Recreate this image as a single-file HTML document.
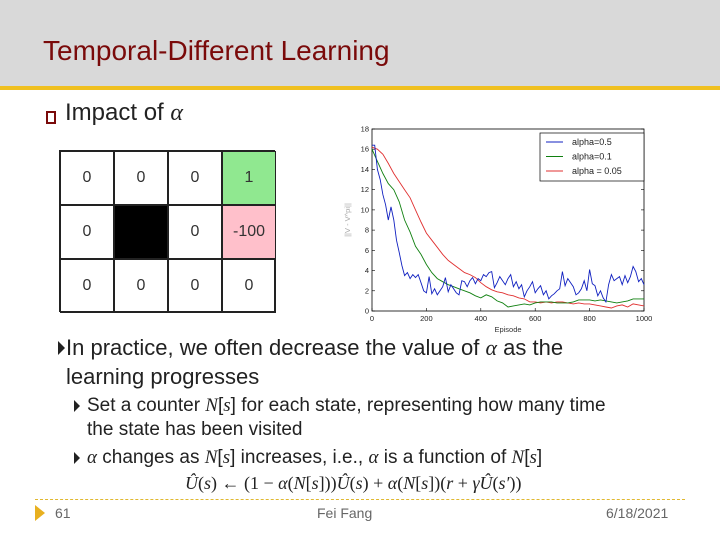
<!DOCTYPE html>
<html><head><meta charset="utf-8"><style>
body{margin:0;width:720px;height:540px;position:relative;background:#fff;font-family:"Liberation Sans",sans-serif;overflow:hidden}
.abs{position:absolute}
.cell{position:absolute;width:54px;height:54px;box-sizing:border-box;border:1px solid #222;display:flex;align-items:center;justify-content:center;font-size:16px;color:#333}
.tri{position:absolute;width:0;height:0;border-top:7px solid transparent;border-bottom:7px solid transparent;border-left:7px solid #222}
</style></head><body>
<div class="abs" style="left:0;top:0;width:720px;height:86px;background:#d9d9d9"></div>
<div class="abs" style="left:0;top:86px;width:720px;height:4px;background:#f0c020"></div>
<div class="abs" style="left:43px;top:35px;font-size:28px;color:#7a0a0a;letter-spacing:0px">Temporal-Different Learning</div>

<div class="abs" style="left:46px;top:111px;width:10px;height:13px;border:2px solid #7a0a0a;box-sizing:border-box"></div>
<div class="abs" style="left:65px;top:99px;font-size:24px;color:#222">Impact of <i style="font-family:'Liberation Serif',serif">α</i></div>

<div class="abs" style="left:59px;top:150px;width:216px;height:162px;border:1px solid #222;box-sizing:border-box">
<div class="cell" style="left:0;top:0">0</div>
<div class="cell" style="left:54px;top:0">0</div>
<div class="cell" style="left:108px;top:0">0</div>
<div class="cell" style="left:162px;top:0;background:#90e890">1</div>
<div class="cell" style="left:0;top:54px">0</div>
<div class="cell" style="left:54px;top:54px;background:#000"></div>
<div class="cell" style="left:108px;top:54px">0</div>
<div class="cell" style="left:162px;top:54px;background:#ffc0cb">-100</div>
<div class="cell" style="left:0;top:108px">0</div>
<div class="cell" style="left:54px;top:108px">0</div>
<div class="cell" style="left:108px;top:108px">0</div>
<div class="cell" style="left:162px;top:108px">0</div>
</div>

<svg class="abs" style="left:0;top:0" width="720" height="540" id="chart"></svg>

<div class="tri" style="left:58px;top:341px"></div>
<div class="abs" style="left:66px;top:333px;font-size:22px;line-height:29px;color:#222;width:550px">In practice, we often decrease the value of <i style="font-family:'Liberation Serif',serif">α</i> as the learning progresses</div>
<div class="tri" style="left:74px;top:400px;border-top-width:6px;border-bottom-width:6px;border-left-width:6px"></div>
<div class="abs" style="left:87px;top:394px;font-size:19px;line-height:24px;color:#222;width:530px">Set a counter <i style="font-family:'Liberation Serif',serif">N</i>[<i style="font-family:'Liberation Serif',serif">s</i>] for each state, representing how many time the state has been visited</div>
<div class="tri" style="left:74px;top:452px;border-top-width:6px;border-bottom-width:6px;border-left-width:6px"></div>
<div class="abs" style="left:87px;top:446px;font-size:19px;line-height:24px;color:#222"><i style="font-family:'Liberation Serif',serif">α</i> changes as <i style="font-family:'Liberation Serif',serif">N</i>[<i style="font-family:'Liberation Serif',serif">s</i>] increases, i.e., <i style="font-family:'Liberation Serif',serif">α</i> is a function of <i style="font-family:'Liberation Serif',serif">N</i>[<i style="font-family:'Liberation Serif',serif">s</i>]</div>
<div class="abs" style="left:185px;top:473px;font-size:18px;font-family:'Liberation Serif',serif;color:#222"><i>Û</i>(<i>s</i>) ← (1 − <i>α</i>(<i>N</i>[<i>s</i>]))<i>Û</i>(<i>s</i>) + <i>α</i>(<i>N</i>[<i>s</i>])(<i>r</i> + <i>γÛ</i>(<i>s′</i>))</div>

<div class="abs" style="left:35px;top:499px;width:650px;border-top:1px dashed #e0b830"></div>
<div class="abs" style="left:35px;top:505px;width:0;height:0;border-top:8px solid transparent;border-bottom:8px solid transparent;border-left:10px solid #e8b020"></div>
<div class="abs" style="left:55px;top:505px;font-size:14px;color:#666">61</div>
<div class="abs" style="left:317px;top:505px;font-size:14px;color:#666">Fei Fang</div>
<div class="abs" style="left:606px;top:505px;font-size:14px;color:#666">6/18/2021</div>

<script>
const blueX = [0,10,20,30,40,50,60,70,80,90,100,110,120,130,140,150,160,170,180,190,200,210,220,230,240,250,260,270,280,290,300,310,320,330,340,350,360,370,380,390,400,410,420,430,440,450,460,470,480,490,500,510,520,530,540,550,560,570,580,590,600,610,620,630,640,650,660,670,680,690,700,710,720,730,740,750,760,770,780,790,800,810,820,830,840,850,860,870,880,890,900,910,920,930,940,950,960,970,980,990,1000];
const blueY = [16.4,16.4,14,13,11.5,10.5,9,10.3,9,7,5.8,4.5,3.5,3.8,3.2,3.6,3.3,3.6,2.8,2.0,1.8,3.4,1.7,2.2,1.6,2.0,2.4,3.3,1.9,2.6,2.2,1.8,1.6,3.0,2.9,2.4,3.0,3.3,2.7,3.2,3.0,3.6,3.4,3.8,3.9,2.3,2.8,3.4,3.0,2.6,3.2,3.6,2.4,2.9,2.2,2.6,1.4,2.0,2.4,2.9,1.8,2.2,2.5,1.6,2.0,1.2,1.5,1.7,2.0,2.2,3.9,2.5,3.2,2.8,2.4,1.6,1.8,2.2,3.0,2.0,4.1,2.7,2.5,1.5,2.0,1.3,0.9,2.6,3.6,3.0,3.2,3.4,2.6,3.5,2.8,3.4,4.4,3.9,2.9,3.2,2.6];
const slowX = [0,20,40,60,80,100,120,140,160,180,200,220,240,260,280,300,320,340,360,380,400,420,440,460,480,500,520,540,560,580,600,620,640,660,680,700,720,740,760,780,800,820,840,860,880,900,920,940,960,980,1000];
const greenY = [16,14.8,13.6,12.6,12,10.8,9,7.8,6.4,5.6,4.6,3.8,3.2,2.9,2.6,2.4,2.2,2.0,1.8,1.5,1.3,1.6,1.4,1.0,0.8,0.4,0.5,0.6,0.7,0.6,0.8,0.9,0.9,0.9,0.8,0.8,0.8,0.9,1.1,1.1,1.1,1.0,1.1,1.0,0.9,0.8,0.9,1.0,1.2,1.2,1.2];
const redY = [16.2,16,15.5,14.6,13.6,12.8,12.0,11.2,10,8.8,7.7,7,6.3,5.6,5.0,4.6,4.2,3.8,3.6,3.3,2.8,2.4,2.1,1.9,1.8,1.6,1.5,1.3,1.2,0.9,0.9,0.8,0.9,0.8,0.9,0.9,0.8,0.7,0.8,0.7,0.7,0.6,0.5,0.4,0.3,0.5,0.6,0.4,0.7,0.6,0.5];
const xTicks = [0,200,400,600,800,1000];
const yTicks = [0,2,4,6,8,10,12,14,16,18];
const legendLabels = ["alpha=0.5","alpha=0.1","alpha = 0.05"];

const svg = document.getElementById('chart');
const NS = 'http://www.w3.org/2000/svg';
const L=372,R=644,T=129,B=311;
const sx = v => L + v/1000*(R-L);
const sy = v => B - v/18*(B-T);
function mk(tag, attrs){const e=document.createElementNS(NS,tag);for(const k in attrs)e.setAttribute(k,attrs[k]);svg.appendChild(e);return e;}

const frame = mk('rect',{x:L,y:T,width:R-L,height:B-T,fill:'#fff',stroke:'#000','stroke-width':0.8});



xTicks.forEach(v=>{
  const t=mk('line',{x1:sx(v),x2:sx(v),y1:B,y2:B-3,stroke:'#000','stroke-width':0.6});
  
  
  const lb=mk('text',{x:sx(v),y:B+10,'font-size':7.5,'text-anchor':'middle',fill:'#222','font-family':'Liberation Sans, sans-serif'});
  lb.textContent=v;
  
  
});
yTicks.forEach(v=>{
  const t=mk('line',{x1:L,x2:L+3,y1:sy(v),y2:sy(v),stroke:'#000','stroke-width':0.6});
  
  
  const t2=mk('line',{x1:R,x2:R-3,y1:sy(v),y2:sy(v),stroke:'#000','stroke-width':0.6});
  
  
  const lb=mk('text',{x:L-3,y:sy(v)+2.5,'font-size':7.5,'text-anchor':'end',fill:'#222','font-family':'Liberation Sans, sans-serif'});
  lb.textContent=v;
  
  
});
const xt=mk('text',{x:(L+R)/2,y:B+21,'font-size':7.5,'text-anchor':'middle',fill:'#333','font-family':'Liberation Sans, sans-serif'});
xt.textContent='Episode';


const yt=mk('text',{x:0,y:0,'font-size':7.5,'text-anchor':'middle',fill:'#aaa','font-family':'Liberation Sans, sans-serif',transform:`translate(350,${(T+B)/2}) rotate(-90)`});
yt.textContent='||V - V^pi||';



function line(xs,ys,color,name){
  const d=xs.map((x,i)=>(i?'L':'M')+sx(x).toFixed(1)+','+sy(ys[i]).toFixed(1)).join(' ');
  const p=mk('path',{d:d,fill:'none',stroke:color,'stroke-width':0.9});
  
  
}
line(slowX,redY,'#e03030','series-alpha-0.05');
line(slowX,greenY,'#108010','series-alpha-0.1');
line(blueX,blueY,'#1020c0','series-alpha-0.5');

const lg=mk('rect',{x:540,y:133,width:104,height:48,fill:'#fff',stroke:'#000','stroke-width':0.7});


const lc=['#1020c0','#108010','#e03030'];
legendLabels.forEach((s,i)=>{
  const y=142+i*14.5;
  const l=mk('line',{x1:546,x2:563,y1:y,y2:y,stroke:lc[i],'stroke-width':1});
  
  
  const t=mk('text',{x:572,y:y+3,'font-size':9,fill:'#222','font-family':'Liberation Sans, sans-serif'});
  t.textContent=s;
  
  
});
</script>
</body></html>
